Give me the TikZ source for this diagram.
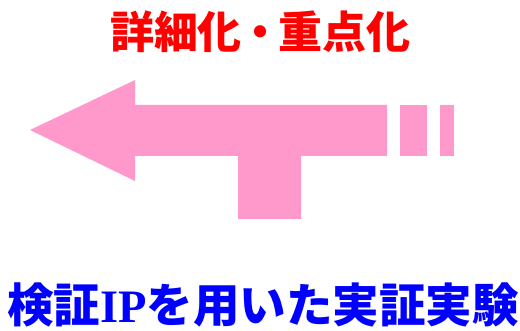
\documentclass[tikz,border=0pt]{standalone}
\usepackage{fontspec}
\newfontfamily\jp{Noto Sans CJK JP}
\newfontfamily\latinserif{Liberation Serif}
\definecolor{arrowpink}{HTML}{FF99CC}
\definecolor{titlered}{HTML}{FF0000}
\definecolor{titleblue}{HTML}{0000FF}
\tikzset{
  shapefill/.style={fill=arrowpink, draw=none},
  toptext/.style={inner sep=0pt, text=titlered, font=\jp\bfseries\fontsize{44}{44}\selectfont},
  bottomtext/.style={inner sep=0pt, text=titleblue, font=\jp\bfseries\fontsize{46.5}{46.5}\selectfont},
}
\begin{document}
\begin{tikzpicture}[x=1pt,y=-1pt]
\useasboundingbox (0,0) rectangle (520,331);
\fill[white] (0,0) rectangle (520,331);
\fill[shapefill] (30,130) -- (135,80) -- (135,105) -- (387,105) -- (387,156) -- (301,156) -- (301,219) -- (238,219) -- (238,156) -- (135,156) -- (135,181) -- cycle;
\fill[shapefill] (400,105) rectangle (427,156);
\fill[shapefill] (440,105) rectangle (454,156);
\node[toptext] (top) at (260,32) {詳細化\kern-4pt・\kern-4pt 重点化};
\node[bottomtext] (bottom) at (263,304.5) {検証{\latinserif\bfseries IP}を用いた実証実験};
\end{tikzpicture}
\end{document}
